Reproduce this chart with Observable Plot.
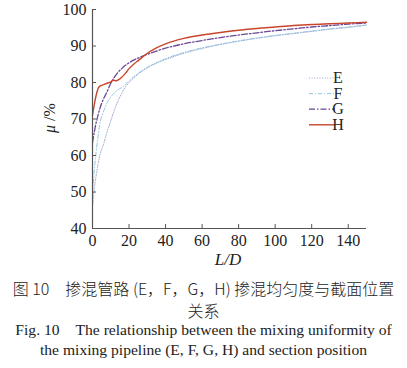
<!DOCTYPE html>
<html><head><meta charset="utf-8">
<script src="https://cdn.jsdelivr.net/npm/d3@7"></script>
<script src="https://cdn.jsdelivr.net/npm/@observablehq/plot@0.6"></script>
<style>
body{margin:0;background:#fff;}
#wrap{position:relative;width:407px;height:368px;overflow:hidden;font-family:"Liberation Serif","DejaVu Serif",serif;color:#222;}
.cap{position:absolute;left:0;width:407px;text-align:center;white-space:nowrap;}
.zh{font-family:"Noto Sans CJK SC",sans-serif;font-size:16px;font-weight:300;}
.en{font-size:15.6px;}
</style></head>
<body><div id="wrap"></div>
<script>
const seriesNames = ["E","F","G","H"];
const L_E = [0,1,2,3,4,6,8,10,12,14,16,18,20,22,25,30,35,40,50,60,70,80,90,100,110,120,130,140,150];
const mu_E = [46,51,54.5,57.5,60,63,66.5,69.5,72.5,75,77,78.8,80,81,82.3,84,85.3,86.3,88,89.3,90.4,91.3,92.1,92.8,93.4,94,94.6,95.1,95.7];
const L_F = [0,1,2,3,4,6,8,10,12,14,17,20,25,30,35,40,50,60,70,80,90,100,110,120,130,140,150];
const mu_F = [50,56,61,65,68.5,72,74.5,76,77.2,78,79,80.5,82.5,84.2,85.4,86.5,88.2,89.5,90.5,91.4,92.2,92.9,93.5,94.1,94.7,95.2,95.8];
const L_G = [0,1,2,3,4,6,8,10,12,14,16,18,20,22,25,30,35,40,50,60,70,80,90,100,110,120,130,140,150];
const mu_G = [63.5,66.5,69,71,72.8,75.5,77.5,79.8,81.5,82.8,83.8,84.7,85.4,86,86.7,87.7,88.6,89.4,90.6,91.5,92.3,93,93.6,94.2,94.7,95.2,95.6,96,96.3];
const L_H = [0,1,2,3,4,6,8,10,11.5,13,15,18,20,23,25,30,35,40,50,60,70,80,90,100,110,120,130,140,150];
const mu_H = [71,74,76.5,78.3,79,79.4,79.8,80.2,80.6,80.5,81,82.5,83.8,85.2,86,88,89.5,90.6,92.1,93,93.7,94.3,94.8,95.2,95.6,95.9,96.1,96.3,96.5];
const xTicks = [0,20,40,60,80,100,120,140];
const yTicks = [40,50,60,70,80,90,100];

const styles = {
  E:{stroke:"#9ba6cf",dash:"1,1.6",w:1},
  F:{stroke:"#93c6e2",dash:"4,2,1,2",w:1},
  G:{stroke:"#6a4795",dash:"6,2,1.5,2",w:1.3},
  H:{stroke:"#c9452c",dash:null,w:1.4}
};
const raw = {E:[L_E,mu_E],F:[L_F,mu_F],G:[L_G,mu_G],H:[L_H,mu_H]};
const tables = {};
for (const s of seriesNames) tables[s] = raw[s][0].map((L,i)=>({L, mu: raw[s][1][i], s}));

const lineMarks = seriesNames.map(s => Plot.line(tables[s], {
  x:"L", y:"mu", stroke: styles[s].stroke, strokeWidth: styles[s].w,
  strokeDasharray: styles[s].dash || undefined, curve:"monotone-x"
}));

const serif = "Liberation Serif, DejaVu Serif, serif";
const chart = Plot.plot({
  width:407, height:272,
  marginLeft:92, marginRight:41, marginTop:9, marginBottom:44,
  style:{fontSize:"16px", color:"#333", background:"#fff"},
  x:{domain:[0,150]},
  y:{domain:[40,100]},
  marks:[
    ...lineMarks,
    Plot.ruleX([0],{stroke:"#555",strokeWidth:1.2}),
    Plot.ruleY([40],{stroke:"#555",strokeWidth:1.2}),
    Plot.axisX({ticks:xTicks, tickSize:-4, tickPadding:10, label:null, fontSize:16, stroke:"#555"}),
    Plot.axisY({ticks:yTicks, tickSize:-4, tickPadding:10, label:null, fontSize:16, stroke:"#555"})
  ]
});
const wrap = document.getElementById("wrap");
wrap.appendChild(chart);

const svg = d3.select(chart);
svg.attr("font-family", serif).style("font-family", serif);
svg.selectAll("g").attr("font-family", serif).style("font-family", serif);
svg.selectAll("text").attr("font-family", serif).style("font-family", serif).attr("fill","#222");

// axis labels
svg.append("text").attr("x",228).attr("y",265).attr("text-anchor","middle")
  .attr("font-size",17).attr("font-style","italic").attr("fill","#222")
  .style("font-family",serif).text("L/D");
svg.append("text").attr("transform","translate(55,118) rotate(-90)").attr("text-anchor","middle")
  .attr("font-size",16).attr("fill","#222").style("font-family",serif)
  .html('<tspan font-style="italic">μ</tspan> /%');

// legend
const lg = svg.append("g");
seriesNames.forEach((s,i)=>{
  const y = 78 + i*15.6;
  lg.append("line").attr("x1",309).attr("x2",335).attr("y1",y).attr("y2",y)
    .attr("stroke",styles[s].stroke).attr("stroke-width",styles[s].w)
    .attr("stroke-dasharray",styles[s].dash||null);
  lg.append("text").attr("x",338).attr("y",y+5).attr("font-size",16).attr("fill","#222")
    .style("font-family",serif).text(s);
});

const caps = [
  ["zh",287,"图 10　掺混管路 (E，F，G，H) 掺混均匀度与截面位置"],
  ["zh",309,"关系"],
  ["en",331,"Fig. 10　The relationship between the mixing uniformity of"],
  ["en",352,"the mixing pipeline (E, F, G, H) and section position"]
];
for (const [cls,y,t] of caps){
  const d = document.createElement("div");
  d.className = "cap "+cls; d.textContent = t;
  d.style.top = (y-11)+"px";
  wrap.appendChild(d);
}
</script></body></html>
